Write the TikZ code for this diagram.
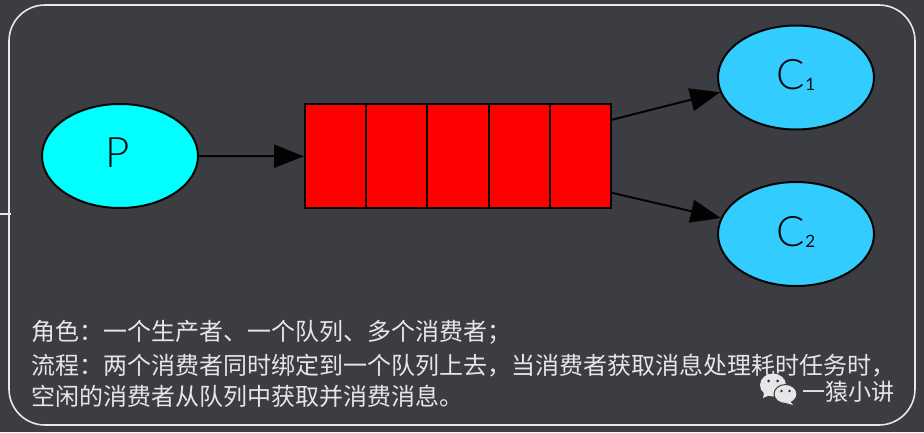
\documentclass[tikz,border=0pt]{standalone}
\usepackage{fontspec}
\usetikzlibrary{shapes.geometric,arrows.meta,calc}
\setmainfont{Lato}
\newfontfamily\lightf{Lato Light}
\newfontfamily\cjk{Noto Sans CJK SC}
\definecolor{bgc}{HTML}{3C3D43}
\definecolor{framec}{HTML}{E8E8E8}
\definecolor{txtc}{HTML}{E6E6E6}
\definecolor{aquac}{HTML}{00FFFF}
\definecolor{bluec}{HTML}{33CCFF}
\tikzset{
  ell/.style={ellipse,draw=black!90!bgc,line width=2pt,minimum width=156pt,minimum height=104pt,inner sep=0pt,font=\lightf\fontsize{42}{42}\selectfont,text=black!85!bgc},
  cellbox/.style={rectangle,draw=black!90!bgc,fill=red,line width=2pt,minimum width=61.2pt,minimum height=104pt,inner sep=0pt,anchor=north west},
  conn/.style={draw=black!95!bgc,line width=2pt,-{Triangle[length=30pt,width=23pt]}},
  captxt/.style={anchor=base west,inner sep=0pt,text=txtc,font=\cjk\fontsize{24}{24}\selectfont},
}
\newcommand{\subdig}[1]{\raisebox{-1pt}{\fontsize{17}{17}\selectfont\rmfamily #1}}
\newcommand{\uplabel}[1]{\raisebox{6pt}{#1}}
\begin{document}
\begin{tikzpicture}[x=1pt,y=-1pt]
\useasboundingbox[fill=bgc] (0,0) rectangle (924,432);
\draw[framec,line width=1.6pt,rounded corners=36pt] (9,5) rectangle (915,425);
\draw[framec,line width=2pt] (0,214) -- (11,214);
\node[ell,fill=aquac] (p) at (120,156) {\uplabel{P\kern4pt}};
\node[cellbox] (c1cell) at (304,103.3) {};
\node[cellbox] (c2cell) at (365.2,103.3) {};
\node[cellbox] (c3cell) at (426.4,103.3) {};
\node[cellbox] (c4cell) at (487.6,103.3) {};
\node[cellbox] (c5cell) at (548.8,103.3) {};
\node[ell,fill=bluec] (ca) at (796,77.5) {\uplabel{C\subdig{1}}};
\node[ell,fill=bluec] (cb) at (796,234) {\uplabel{C\subdig{2}}};
\draw[conn] (p.east) -- (c1cell.west);
\draw[conn] ($(c5cell.north east)!0.155!(c5cell.south east)$) -- (ca.191.5);
\draw[conn] ($(c5cell.north east)!0.845!(c5cell.south east)$) -- (cb.168.5);
\node[captxt] (l1) at (31,340) {角色\char"FF1A 一个生产者、一个队列、多个消费者\char"FF1B};
\node[captxt] (l2) at (31,374) {流程\char"FF1A 两个消费者同时绑定到一个队列上去\char"FF0C 当消费者获取消息处理耗时任务时\char"FF0C};
\node[captxt] (l3) at (31,405) {空闲的消费者从队列中获取并消费消息。};
% WeChat mark
\fill[txtc] (773,385) ellipse [x radius=13,y radius=11.5];
\fill[txtc] (764,393) -- (763,398) -- (770,395) -- cycle;
\fill[bgc!80!black] (768.5,381) circle (1.5) (777.5,381) circle (1.5);
\filldraw[fill=txtc,draw=bgc,line width=1pt] (785.5,394) ellipse [x radius=11.5,y radius=9.5];
\fill[txtc] (790,401) -- (793,405) -- (786,403) -- cycle;
\fill[bgc!80!black] (781.5,391) circle (1.3) (789.5,391) circle (1.3);
\node[anchor=base west,inner sep=0pt,text=txtc,font=\cjk\fontsize{23}{23}\selectfont] (wm) at (802,400) {一猿小讲};
\end{tikzpicture}
\end{document}
